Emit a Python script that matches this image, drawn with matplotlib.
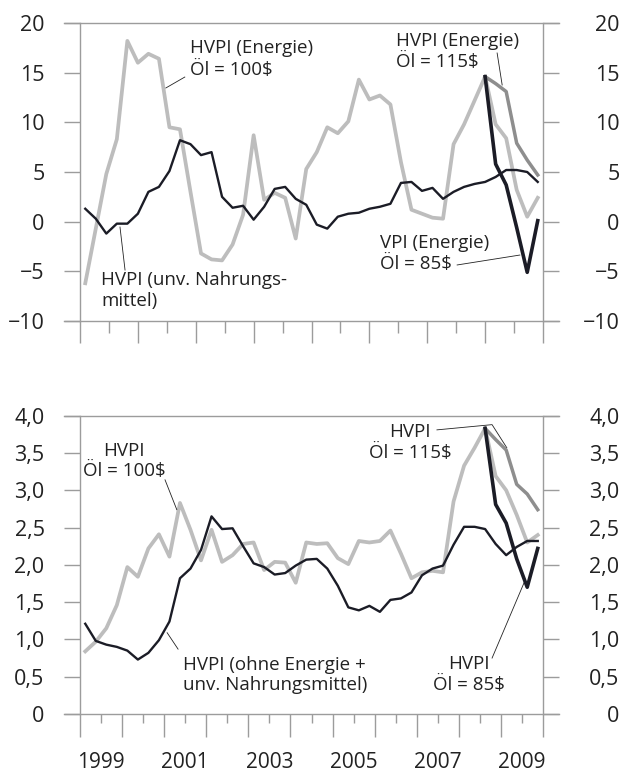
import numpy as np
import matplotlib
matplotlib.use('Agg')
import matplotlib.pyplot as plt
import matplotlib.transforms as mtrans

plt.rcParams['font.family'] = ['Open Sans', 'DejaVu Sans']

# Quartalswerte 1999Q1 - 2009Q4 (ab 2008Q3 Projektion)
quarters = 1999 + (np.arange(44) + 0.5) / 4
fc_x = quarters[38:]

# oberes Panel: Energie und unverarbeitete Nahrungsmittel
energie_100 = [-6.2, -0.7, 4.8, 8.3, 18.2, 16.0, 16.9, 16.4, 9.5, 9.3, 3.0,
               -3.2, -3.8, -3.9, -2.3, 0.7, 8.7, 2.2, 2.9, 2.4, -1.7, 5.3,
               7.0, 9.5, 8.9, 10.1, 14.3, 12.3, 12.7, 11.8, 6.0, 1.2, 0.8,
               0.4, 0.3, 7.8, 9.8, 12.2, 14.6, 9.8, 8.4, 3.2, 0.5, 2.4]
nahrung = [1.3, 0.3, -1.2, -0.2, -0.2, 0.8, 3.0, 3.5, 5.1, 8.2, 7.8,
           6.7, 7.0, 2.5, 1.4, 1.6, 0.2, 1.5, 3.3, 3.5, 2.3, 1.7,
           -0.3, -0.7, 0.5, 0.8, 0.9, 1.3, 1.5, 1.8, 3.9, 4.0, 3.1,
           3.4, 2.3, 3.0, 3.5, 3.8, 4.0, 4.5, 5.2, 5.2, 5.0, 4.0]
energie_115 = [14.6, 13.9, 13.1, 7.9, 6.2, 4.7]
energie_85 = [14.6, 5.8, 3.7, -0.6, -5.1, 0.1]

# unteres Panel: HVPI gesamt und Kernrate
hvpi_100 = [0.84, 0.97, 1.15, 1.46, 1.97, 1.84, 2.22, 2.41, 2.11, 2.83, 2.47,
            2.06, 2.47, 2.04, 2.13, 2.28, 2.30, 1.93, 2.04, 2.03, 1.76, 2.30,
            2.28, 2.29, 2.09, 2.01, 2.32, 2.30, 2.32, 2.46, 2.15, 1.82, 1.90,
            1.92, 1.90, 2.85, 3.33, 3.57, 3.83, 3.19, 3.00, 2.67, 2.30, 2.40]
kern = [1.21, 0.98, 0.93, 0.90, 0.85, 0.73, 0.82, 0.99, 1.24, 1.82, 1.95,
        2.20, 2.65, 2.48, 2.49, 2.25, 2.02, 1.97, 1.87, 1.89, 1.99, 2.07,
        2.08, 1.95, 1.72, 1.43, 1.39, 1.45, 1.37, 1.53, 1.55, 1.63, 1.86,
        1.95, 1.99, 2.27, 2.51, 2.51, 2.48, 2.28, 2.13, 2.24, 2.32, 2.32]
hvpi_115 = [3.83, 3.68, 3.54, 3.08, 2.95, 2.74]
hvpi_85 = [3.83, 2.81, 2.56, 2.08, 1.70, 2.22]

top_ticks = [20, 15, 10, 5, 0, -5, -10]
top_labels = ['20', '15', '10', '5', '0', '\u22125', '\u221210']
bot_ticks = [4.0, 3.5, 3.0, 2.5, 2.0, 1.5, 1.0, 0.5, 0]
bot_labels = ['4,0', '3,5', '3,0', '2,5', '2,0', '1,5', '1,0', '0,5', '0']
years = [1999, 2001, 2003, 2005, 2007, 2009]

LIGHT = '#bdbdbd'
DARK = '#8e8e8e'
BLACK = '#1b1c26'
FRAME = '#9c9c9c'
TXT = '#222222'
W, H = 627, 773


def setup_axes(ax, ticks, labels, ylim, xt_major, xt_minor, long_len, short_len):
    ax.set_xlim(1999, 2010)
    ax.set_ylim(*ylim)
    for side in ['top', 'bottom']:
        ax.spines[side].set_visible(False)
    for side in ['left', 'right']:
        ax.spines[side].set_color(FRAME)
        ax.spines[side].set_linewidth(1.0)
    # Rahmenlinien oben und unten ragen um die Ticklaenge hinaus
    ext = 16 / (543 - 80)
    for yy in (0, 1):
        ax.plot([-ext, 1 + ext], [yy, yy], color=FRAME, lw=1.0,
                transform=ax.transAxes, clip_on=False)
    ax.set_yticks(ticks)
    ax.set_yticklabels(labels)
    ax.tick_params(axis='y', direction='out', length=11.5, width=1.0,
                   color=FRAME, left=True, right=True, labelleft=True,
                   labelright=True, labelsize=15.5, labelcolor=TXT, pad=14)
    # rechte Beschriftung rechtsbuendig
    shift = mtrans.ScaledTranslation(0.41, 0, ax.figure.dpi_scale_trans)
    for t in ax.yaxis.get_major_ticks():
        t.label2.set_horizontalalignment('right')
        t.label2.set_transform(t.label2.get_transform() + shift)
    ax.set_xticks(xt_major)
    ax.set_xticks(xt_minor, minor=True)
    ax.set_xticklabels([])
    ax.tick_params(axis='x', which='major', direction='out', length=long_len,
                   width=1.0, color=FRAME)
    ax.tick_params(axis='x', which='minor', direction='out', length=short_len,
                   width=1.0, color=FRAME)


fig = plt.figure(figsize=(W / 100, H / 100), dpi=100)
ax1 = fig.add_axes([80 / W, 1 - 321 / H, 463 / W, 298 / H])
ax2 = fig.add_axes([80 / W, 1 - 714 / H, 463 / W, 298.3 / H])

top_x = np.linspace(1999, 2010, 17)
setup_axes(ax1, top_ticks, top_labels, (-10, 20), top_x[::2], top_x[1::2], 16, 8.6)
setup_axes(ax2, bot_ticks, bot_labels, (0, 4), np.arange(1999, 2011),
           np.arange(1999, 2010) + 0.5, 16.5, 6.5)

# oberes Panel
ax1.plot(quarters, energie_100, color=LIGHT, lw=2.7, zorder=2)
ax1.plot(quarters, nahrung, color=BLACK, lw=1.7, zorder=3)
ax1.plot(fc_x, energie_115, color=DARK, lw=2.5, zorder=4)
ax1.plot(fc_x, energie_85, color=BLACK, lw=2.6, zorder=5)

# unteres Panel
ax2.plot(quarters, hvpi_100, color=LIGHT, lw=2.7, zorder=2)
ax2.plot(quarters, kern, color=BLACK, lw=1.7, zorder=3)
ax2.plot(fc_x, hvpi_115, color=DARK, lw=2.5, zorder=4)
ax2.plot(fc_x, hvpi_85, color=BLACK, lw=2.6, zorder=5)

fs = 13.5
lead = dict(color=TXT, lw=0.6)

# Beschriftungen oben
ax1.text(2001.61, 16.4, 'HVPI (Energie)\nÖl = 100$', fontsize=fs, color=TXT,
         ha='left', va='center', linespacing=1.3)
ax1.plot([2001.49, 2001.04], [14.56, 13.46], **lead)
ax1.text(1999.50, -6.93, 'HVPI (unv. Nahrungs-\nmittel)', fontsize=fs, color=TXT,
         ha='left', va='center', linespacing=1.2)
ax1.plot([1999.95, 2000.07], [-0.54, -4.87], **lead)
ax1.text(2006.51, 17.13, 'HVPI (Energie)\nÖl = 115$', fontsize=fs, color=TXT,
         ha='left', va='center', linespacing=1.15)
ax1.plot([2008.91, 2009.03], [16.98, 13.76], **lead)
ax1.text(2006.13, -3.21, 'VPI (Energie)\nÖl = 85$', fontsize=fs, color=TXT,
         ha='left', va='center', linespacing=1.15)
ax1.plot([2007.96, 2009.45], [-4.36, -3.36], **lead)

# Beschriftungen unten
ax2.text(2000.05, 3.39, 'HVPI\nÖl = 100$', fontsize=fs, color=TXT,
         ha='center', va='center', linespacing=1.15, multialignment='center')
ax2.plot([2001.02, 2001.30], [3.14, 2.74], **lead)
ax2.text(2001.45, 0.523, 'HVPI (ohne Energie +\nunv. Nahrungsmittel)', fontsize=fs,
         color=TXT, ha='left', va='center', linespacing=1.15)
ax2.plot([2001.33, 2001.07], [0.87, 1.09], **lead)
ax2.text(2006.84, 3.64, 'HVPI\nÖl = 115$', fontsize=fs, color=TXT,
         ha='center', va='center', linespacing=1.15, multialignment='center')
ax2.plot([2007.48, 2008.79, 2009.14], [3.81, 3.88, 3.57], **lead)
ax2.text(2008.24, 0.53, 'HVPI\nÖl = 85$', fontsize=fs, color=TXT,
         ha='center', va='center', linespacing=1.15, multialignment='center')
ax2.plot([2008.79, 2009.55], [0.75, 1.76], **lead)

# Jahreszahlen mittig unter dem jeweiligen Jahr
trans = mtrans.blended_transform_factory(ax2.transData, ax2.transAxes)
for yr in years:
    ax2.text(yr + 0.5, -0.161, str(yr), transform=trans, ha='center',
             va='center', fontsize=15, color=TXT)

fig.savefig('out.png', dpi=100)
